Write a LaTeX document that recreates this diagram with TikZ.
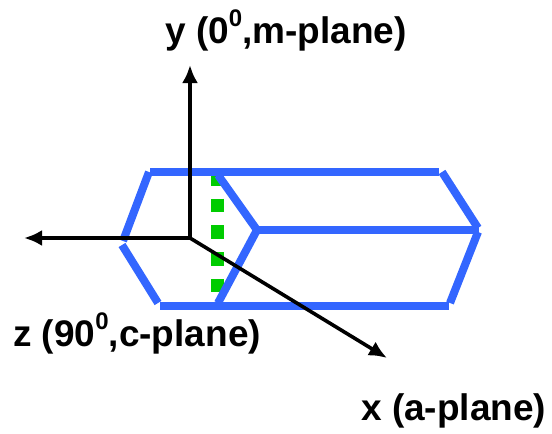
\documentclass[tikz,border=0pt]{standalone}
\usepackage{fontspec}
\setmainfont{Liberation Sans}
\usetikzlibrary{arrows.meta}
\definecolor{hexblue}{HTML}{3366FF}
\definecolor{planegreen}{HTML}{00CC00}
\newcommand{\topzero}[1]{\raisebox{0.45em}{\fontsize{24}{24}\selectfont #1}}
\begin{document}
\begin{tikzpicture}[x=1pt,y=-1pt,>={Latex[length=18pt,width=16pt]},
    edge/.style={draw=hexblue,line width=8pt},
    axis/.style={->,line width=3.6pt},
    lbl/.style={font=\bfseries\fontsize{37}{42}\selectfont,inner sep=0pt,anchor=base west}]
  \useasboundingbox (0,0) rectangle (552,434);
  % dotted plane goes under the blue edges
  \draw[draw=planegreen,line width=13pt,dash pattern=on 13.6pt off 13.1pt] (217.5,172) -- (217.5,293);
  \coordinate (a) at (150,172);
  \coordinate (a2) at (149,172);
  \coordinate (b) at (123,241);
  \coordinate (b2) at (122,245);
  \coordinate (c) at (158,303);
  \coordinate (c2) at (160,306);
  \coordinate (d) at (218,175);
  \coordinate (e) at (257,230);
  \coordinate (f) at (218,303);
  \coordinate (g) at (439,172);
  \coordinate (g2) at (442,172);
  \coordinate (h) at (479,230);
  \coordinate (h1) at (478,228);
  \coordinate (h2) at (478,232);
  \coordinate (i) at (450,303);
  \coordinate (i2) at (449,306);
  \draw[edge] (a) -- (g);
  \draw[edge] (a2) -- (b);
  \draw[edge] (b2) -- (c);
  \draw[edge] (c2) -- (i2);
  \draw[edge] (d) -- (e) -- (f);
  \draw[edge] (e) -- (h);
  \draw[edge] (g2) -- (h1);
  \draw[edge] (h2) -- (i);
  \coordinate (o) at (190,238);
  \coordinate (ytip) at (190,65);
  \coordinate (ztip) at (24,238);
  \coordinate (xtip) at (387,358);
  \draw[axis] (o) -- (ytip);
  \draw[axis] (o) -- (ztip);
  \draw[axis] (o) -- (xtip);
  \node[lbl] (ylabel) at (165,43) {y (0\topzero{0},m-plane)};
  \node[lbl] (zlabel) at (13,346) {z (90\topzero{0},c-plane)};
  \node[lbl] (xlabel) at (361,420) {x (a-plane)};
\end{tikzpicture}
\end{document}
